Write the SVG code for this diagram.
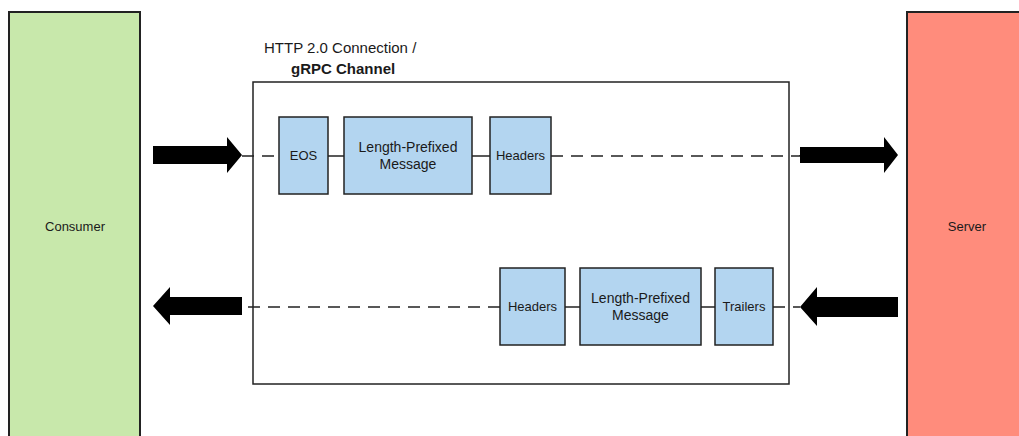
<svg xmlns="http://www.w3.org/2000/svg" width="1019" height="436" viewBox="0 0 1019 436">
<style>
text{font-family:"Liberation Sans",Arial,sans-serif;fill:#1a1a1a;}
.lbl{font-size:13px;text-anchor:middle;}
.lpm{font-size:14px;text-anchor:middle;}
.actor{stroke:#222;stroke-width:2;}
.msg{fill:#b3d5f0;stroke:#222;stroke-width:1.5;}
.solid{stroke:#222;stroke-width:1.5;fill:none;}
.dash{stroke:#222;stroke-width:1.5;fill:none;stroke-dasharray:12 8;}
.arrow{fill:#000;}
</style>
<rect width="1019" height="436" fill="#fff"/>
<g id="consumer">
<rect class="actor" x="9" y="12" width="131" height="440" fill="#c8e8ab"/>
<text class="lbl" x="75" y="231">Consumer</text>
</g>
<g id="server">
<rect class="actor" x="907" y="12" width="130" height="440" fill="#ff8c7c"/>
<text class="lbl" x="967" y="231">Server</text>
</g>
<g id="channel">
<rect x="253" y="82" width="536" height="302" fill="none" stroke="#222" stroke-width="1.5"/>
<text x="264" y="53" font-size="15">HTTP 2.0 Connection /</text>
<text x="291" y="74" font-size="15" font-weight="bold">gRPC Channel</text>
</g>
<g id="connectors">
<path class="dash" d="M242 156 H279"/>
<path class="solid" d="M328 156 H344"/>
<path class="solid" d="M472 156 H490"/>
<path class="dash" d="M551 156 H794"/>
<path class="solid" d="M794 156 H800 V155"/>
<path class="dash" d="M248 307 H500"/>
<path class="solid" d="M565 307 H580"/>
<path class="solid" d="M701 307 H715"/>
<path class="dash" d="M773 307 H800"/>
<polygon class="arrow" points="153,146 227,146 227,137 242,155 227,173 227,164 153,164"/>
<polygon class="arrow" points="800,147 884,147 884,137 898,155 884,173 884,163 800,163"/>
<polygon class="arrow" points="242,297 170,297 170,287 153,306 170,325 170,315 242,315"/>
<polygon class="arrow" points="898,297 817,297 817,287 800,307 817,326 817,317 898,317"/>
</g>
<g id="eos">
<rect class="msg" x="279" y="117" width="49" height="77"/>
<text class="lbl" x="303.5" y="160">EOS</text>
</g>
<g id="lpm-top">
<rect class="msg" x="344" y="117" width="128" height="77"/>
<text class="lpm" x="408" y="152">Length-Prefixed</text>
<text class="lpm" x="408" y="169">Message</text>
</g>
<g id="headers-top">
<rect class="msg" x="490" y="117" width="61" height="77"/>
<text class="lbl" x="520.5" y="160">Headers</text>
</g>
<g id="headers-bottom">
<rect class="msg" x="500" y="268" width="65" height="77"/>
<text class="lbl" x="532.5" y="311">Headers</text>
</g>
<g id="lpm-bottom">
<rect class="msg" x="580" y="268" width="121" height="77"/>
<text class="lpm" x="640.5" y="303">Length-Prefixed</text>
<text class="lpm" x="640.5" y="320">Message</text>
</g>
<g id="trailers">
<rect class="msg" x="715" y="268" width="58" height="77"/>
<text class="lbl" x="744" y="311">Trailers</text>
</g>
</svg>
